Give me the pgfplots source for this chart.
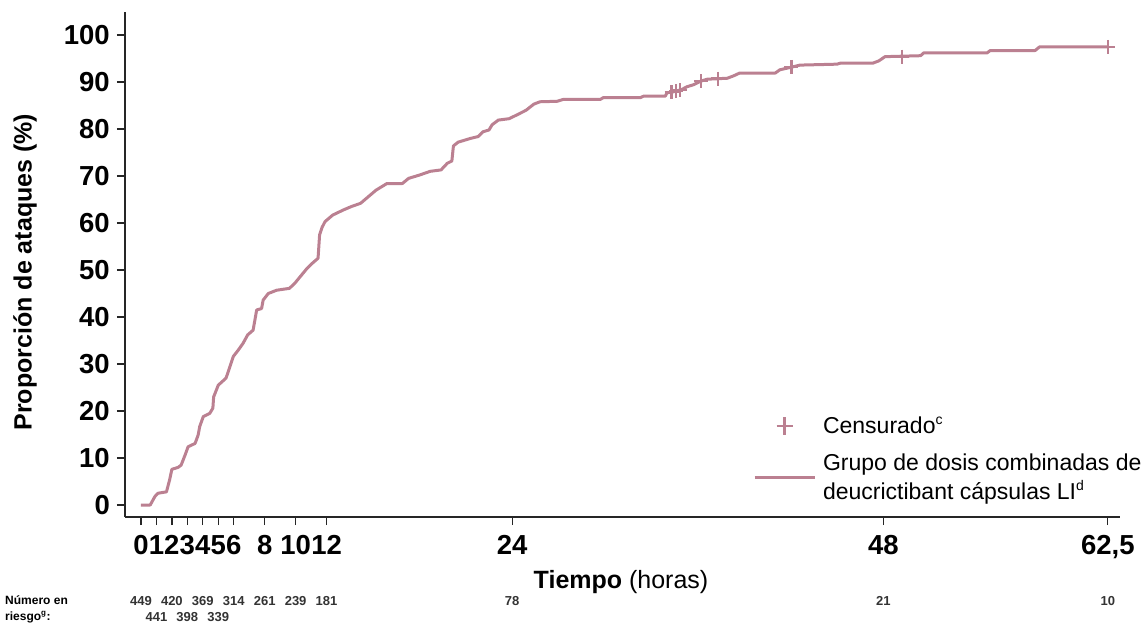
\documentclass[border=0pt]{standalone}
\usepackage{fontspec}
\setmainfont{Liberation Sans}
\usepackage{pgfplots}
\pgfplotsset{compat=1.18}
\definecolor{mauve}{RGB}{187,128,145}
\begin{document}
\begin{tikzpicture}
\useasboundingbox (0,0) rectangle (1141pt,625pt);
\begin{axis}[
 at={(125pt,108pt)}, anchor=south west,
 scale only axis, width=995pt, height=505pt,
 xmin=-1.03, xmax=63.29, ymin=-2.55, ymax=104.9,
 axis x line*=bottom, axis y line*=left,
 axis line style={-, line width=1.3pt, black!85},
 tick align=outside, major tick length=8pt,
 tick style={line width=1.3pt, black!85},
 xtick={0,1,2,3,4,5,6,8,10,12,24,48,62.5},
 xticklabels={0,1,2,3,4,5,6,8,10,12,24,48,{62,5}},
 ytick={0,10,...,100},
 /pgf/number format/assume math mode=true,
 ticklabel style={font=\bfseries\fontsize{27.5}{27.5}\selectfont, inner sep=0pt},
 xticklabel style={yshift=-10pt},
 yticklabel style={xshift=-7pt},
 xlabel={\textbf{Tiempo} (horas)},
 ylabel={Proporción de ataques (\%)},
 xlabel style={at={(axis description cs:0.4985,-0.1287)}, anchor=center, font=\fontsize{25}{25}\selectfont},
 ylabel style={at={(axis description cs:-0.1005,0.485)}, anchor=center, font=\bfseries\fontsize{25}{25}\selectfont},
 clip=false,
 legend style={at={(0.631,0.203)}, anchor=north west, draw=none, fill=none, inner sep=0pt,
   font=\fontsize{23}{29}\selectfont, cells={align=left}, row sep=15pt,
   /tikz/every odd column/.append style={column sep=5pt}},
 legend cell align=left,
]
\addplot[forget plot, mauve, line width=3pt, line join=round] table[x=t, y=p] {
t p
0 0
0.6 0
0.9 1.8
1.1 2.5
1.65 2.8
1.85 5.3
2.0 7.6
2.4 8.0
2.6 8.5
2.85 10.6
3.05 12.4
3.5 13.1
3.7 14.9
3.8 16.7
4.03 18.8
4.45 19.5
4.65 20.6
4.7 23.0
5.0 25.5
5.3 26.4
5.5 27
5.75 29.4
5.97 31.6
6.3 33
6.6 34.4
6.9 36.2
7.25 37.2
7.37 39.4
7.48 41.5
7.8 41.8
7.9 43.6
8.23 45
8.77 45.7
9.6 46.1
9.95 47.2
10.3 48.6
10.7 50.2
11.1 51.5
11.45 52.5
11.55 57.5
11.7 59
11.9 60.3
12.4 61.7
13.1 62.8
13.6 63.5
14.2 64.2
14.7 65.6
15.2 67
15.9 68.4
16.9 68.4
17.3 69.5
18.0 70.2
18.7 71.0
19.4 71.3
19.8 72.7
20.1 73.2
20.2 76.4
20.5 77.2
21.3 78
21.8 78.4
22.1 79.4
22.5 79.8
22.7 80.9
23.1 81.9
23.8 82.2
24.3 83.0
24.9 84.0
25.4 85.3
25.8 85.8
26.9 85.9
27.3 86.3
29.7 86.3
29.9 86.7
32.3 86.7
32.5 87.0
33.9 87.0
34.0 87.7
34.4 87.9
34.95 88.4
35.3 89.0
35.7 89.4
36.2 90.2
36.6 90.6
37.9 90.8
38.3 91.3
38.7 91.9
41.0 91.9
41.3 92.6
42.1 93.2
42.6 93.6
45.0 93.8
45.2 94.0
47.3 94.0
47.7 94.5
48.1 95.4
50.4 95.6
50.6 96.2
54.7 96.2
54.9 96.7
57.8 96.7
58.1 97.5
62.5 97.5
};
\addplot[forget plot, only marks, mark=+, mauve, mark size=7pt, line width=2.5pt] table[x=t, y=p] {
t p
34.3 87.85
34.6 88.1
34.85 88.3
36.2 90.2
37.3 90.7
42.05 93.2
49.2 95.4
62.5 97.5
};
\addplot[forget plot, draw=none, mark=none, nodes near coords, point meta=explicit symbolic,
  nodes near coords style={anchor=center, font=\bfseries\fontsize{13}{13}\selectfont, text=black!80, inner sep=0pt}]
  table[x=t, y=y, meta=n] {
t y n
0 -20.4 449
2 -20.4 420
4 -20.4 369
6 -20.4 314
8 -20.4 261
10 -20.4 239
12 -20.4 181
24 -20.4 78
48 -20.4 21
62.5 -20.4 10
1 -23.8 441
3 -23.8 398
5 -23.8 339
};
\addlegendimage{legend image code/.code={\draw[mauve, line width=2.5pt] (22pt,0pt) -- (38pt,0pt) (30pt,-9pt) -- (30pt,9pt);}}
\addlegendentry{Censurado\textsuperscript{\fontsize{14}{14}\selectfont c}}
\addlegendimage{legend image code/.code={\draw[mauve, line width=3pt] (0pt,0pt) -- (60pt,0pt);}}
\addlegendentry{Grupo de dosis combinadas de\\deucrictibant cápsulas LI\textsuperscript{\fontsize{14}{14}\selectfont d}}
\end{axis}
\node[anchor=west, align=left, font=\bfseries\fontsize{12}{16}\selectfont, inner sep=0pt] at (5pt,16pt) {Número en\\riesgo\textsuperscript{g}:};
\end{tikzpicture}
\end{document}
